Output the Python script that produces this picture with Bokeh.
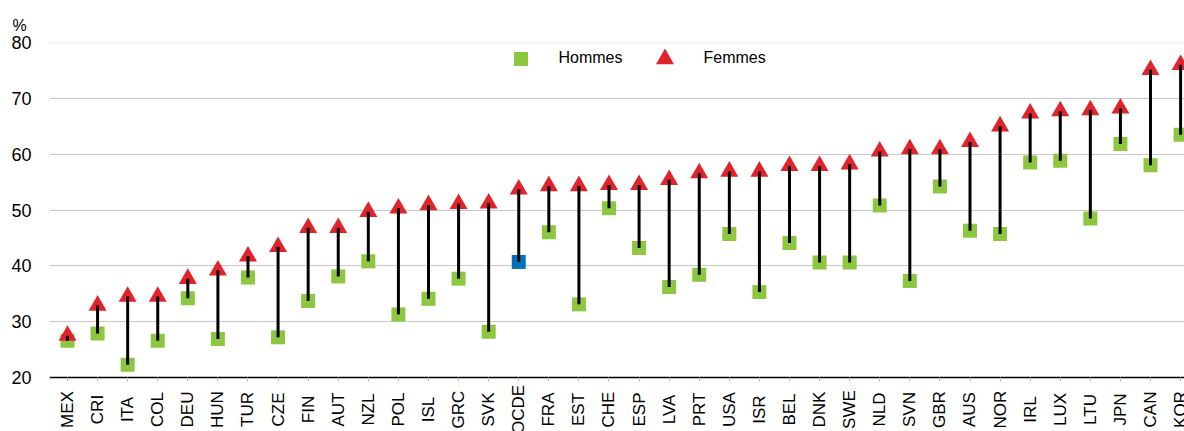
import math
from bokeh.plotting import figure
from bokeh.models import (ColumnDataSource, Range1d, FixedTicker, Span, Legend,
                          LegendItem, LabelSet, LinearAxis)
from bokeh.core.properties import value
from bokeh.embed import file_html
from bokeh.resources import INLINE

countries = ["MEX", "CRI", "ITA", "COL", "DEU", "HUN", "TUR", "CZE", "FIN", "AUT",
             "NZL", "POL", "ISL", "GRC", "SVK", "OCDE", "FRA", "EST", "CHE", "ESP",
             "LVA", "PRT", "USA", "ISR", "BEL", "DNK", "SWE", "NLD", "SVN", "GBR",
             "AUS", "NOR", "IRL", "LUX", "LTU", "JPN", "CAN", "KOR"]
hommes = [26.6, 27.9, 22.3, 26.6, 34.2, 26.9, 37.9, 27.2, 33.7, 38.1,
          40.8, 31.3, 34.1, 37.7, 28.2, 40.7, 46.0, 33.1, 50.3, 43.2,
          36.2, 38.4, 45.7, 35.3, 44.1, 40.6, 40.6, 50.8, 37.3, 54.2,
          46.3, 45.7, 58.5, 58.8, 48.5, 61.8, 58.0, 63.5]
femmes = [27.5, 32.9, 34.5, 34.5, 37.7, 39.2, 41.7, 43.4, 46.8, 46.8,
          49.7, 50.3, 50.9, 51.1, 51.2, 53.7, 54.3, 54.3, 54.5, 54.5,
          55.4, 56.6, 56.9, 56.9, 57.9, 57.9, 58.2, 60.5, 60.9, 60.9,
          62.2, 65.0, 67.3, 67.7, 67.9, 68.2, 75.1, 76.0]
y_ticks = [20, 30, 40, 50, 60, 70, 80]
highlight = "OCDE"

GREEN = "#8DC63F"
RED = "#E1232B"
BLUE = "#0072BC"
FONT = "Liberation Sans"

x_idx = list(range(len(countries)))
sq_colors = [BLUE if c == highlight else GREEN for c in countries]
src = ColumnDataSource(dict(x=x_idx, country=countries, h=hommes, f=femmes, col=sq_colors))

# frame runs down to the bottom of the canvas so the country labels sit inside it
p = figure(width=1184, height=431, output_backend="svg", toolbar_location=None,
           x_range=Range1d(-0.598, len(countries) - 1 + 0.13),
           y_range=Range1d(y_ticks[0] - 9.67, y_ticks[-1]),
           x_axis_location=None,
           min_border_left=49, min_border_right=0, min_border_top=42, min_border_bottom=0,
           title="%")
p.outline_line_color = None
p.background_fill_color = "white"
p.border_fill_color = "white"

p.title.align = "left"
p.title.offset = -37
p.title.standoff = 18
p.title.text_font = FONT
p.title.text_font_size = "16px"
p.title.text_font_style = "normal"
p.title.text_color = "#000000"

# y axis
p.yaxis.ticker = FixedTicker(ticks=y_ticks)
p.yaxis.axis_line_color = None
p.yaxis.major_tick_line_color = None
p.yaxis.minor_tick_line_color = None
p.yaxis.major_label_standoff = 12
p.yaxis.major_label_text_font = FONT
p.yaxis.major_label_text_font_size = "18px"
p.yaxis.major_label_text_color = "#000000"

# x axis drawn at y = 20 inside the frame
xax = LinearAxis(fixed_location=y_ticks[0], ticker=FixedTicker(ticks=x_idx),
                 major_label_overrides={i: "" for i in x_idx},
                 axis_line_color="black", axis_line_width=1.5,
                 major_tick_out=4, major_tick_in=0, major_tick_line_color="#BFBFBF",
                 minor_tick_line_color=None)
p.add_layout(xax, "below")

# grid
p.xgrid.visible = False
p.ygrid.ticker = FixedTicker(ticks=y_ticks[1:-1])
p.ygrid.grid_line_color = "#C8C8C8"
p.ygrid.grid_line_width = 1
p.add_layout(Span(location=y_ticks[-1], dimension="width", line_color="#E6E6E6", line_width=1.5))

sq = p.scatter("x", "h", source=src, marker="square", size=14, fill_color="col", line_color=None)
tri = p.scatter("x", "f", source=src, marker="triangle", size=18, fill_color=RED, line_color=None)
p.segment(x0="x", y0="h", x1="x", y1="f", source=src, line_color="black", line_width=3)

labels = LabelSet(x="x", y=y_ticks[0], y_offset=-32, text="country", source=src,
                  angle=math.pi / 2, text_align="center", text_baseline="middle",
                  text_font=value(FONT), text_font_size=value("17px"),
                  text_color=value("#000000"))
p.add_layout(labels)

leg1 = Legend(items=[LegendItem(label="Hommes", renderers=[sq], index=0)],
              location=(453.5, 355.5), glyph_width=35, glyph_height=35, label_standoff=21,
              padding=0, margin=0, border_line_color=None, background_fill_alpha=0,
              label_text_font=FONT, label_text_font_size="16px", label_text_color="#000000")
leg2 = Legend(items=[LegendItem(label="Femmes", renderers=[tri], index=0)],
              location=(592.5, 350.5), glyph_width=45, glyph_height=45, label_standoff=17,
              padding=0, margin=0, border_line_color=None, background_fill_alpha=0,
              label_text_font=FONT, label_text_font_size="16px", label_text_color="#000000")
p.add_layout(leg1)
p.add_layout(leg2)

open("out.html", "w").write(file_html(p, INLINE))
